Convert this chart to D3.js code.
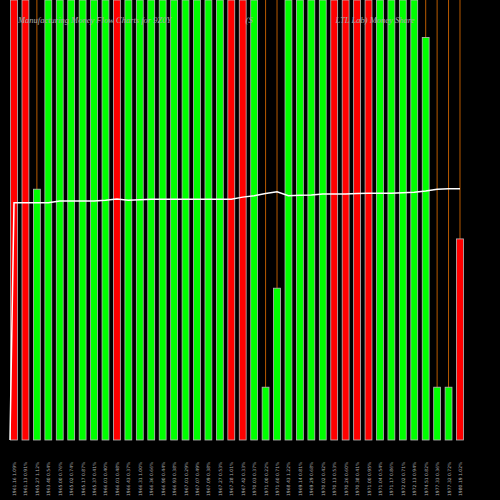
<!DOCTYPE html>
<html><head><meta charset="utf-8">
<script src="https://cdn.jsdelivr.net/npm/d3@7"></script>
<style>body{margin:0;background:#000}</style></head>
<body><div id="chart"></div>
<script>
// bar colour: 1 = up (green), 0 = down (red)
const dirs = [0,0,1,1,1,1,1,1,1,0,1,1,1,1,1,1,1,1,1,0,0,1,1,1,1,1,1,1,0,0,0,0,1,1,1,1,1,1,1,0]
// bar height, 0..100 of the plot
const vols = [100,100,57,100,100,100,100,100,100,100,100,100,100,100,100,100,100,100,100,100,100,100,12,34.5,100,100,100,100,100,100,100,100,100,100,100,100,91.5,12,12,45.7]
// price line, 0..100 of the plot
const price = [53.9,53.9,53.9,53.9,54.3,54.3,54.3,54.3,54.5,54.8,54.5,54.6,54.7,54.7,54.7,54.7,54.7,54.7,54.7,54.7,55.2,55.5,56,56.4,55.5,55.6,55.7,55.9,55.9,55.9,56,56.1,56.1,56.1,56.2,56.3,56.6,57,57.1,57.1]
const labels = ["1961.16 1.09%","1961.13 0.91%","1965.27 1.12%","1963.40 0.54%","1965.00 0.76%","1965.02 0.74%","1965.17 0.87%","1965.37 0.41%","1966.01 0.40%","1966.01 0.48%","1966.43 0.37%","1966.31 1.00%","1966.36 0.66%","1966.90 0.44%","1966.93 0.38%","1967.01 0.29%","1967.07 0.49%","1967.09 0.38%","1967.27 0.53%","1967.28 1.01%","1967.42 0.33%","1970.03 0.37%","1971.00 0.22%","1971.60 0.71%","1968.43 1.22%","1969.14 0.81%","1969.29 0.68%","1970.02 0.42%","1970.13 0.53%","1970.26 0.60%","1970.38 0.41%","1971.00 0.95%","1971.04 0.54%","1971.17 0.86%","1972.02 0.71%","1972.13 0.94%","1974.51 0.82%","1977.33 0.36%","1977.32 0.72%","1980.19 1.02%"]

const W = 500, H = 500
const svg = d3.select('#chart').append('svg').attr('width', W).attr('height', H)
  .style('background', '#000')

const x = d3.scaleBand().domain(d3.range(vols.length)).range([6, 468]).padding(0.4)
const y = d3.scaleLinear().domain([0, 100]).range([440, 0])

// wicks
svg.selectAll('line.wick').data(vols).enter().append('line')
  .attr('x1', (d, i) => x(i) + x.bandwidth() / 2).attr('x2', (d, i) => x(i) + x.bandwidth() / 2)
  .attr('y1', y(100)).attr('y2', y(0))
  .attr('stroke', '#b85a00').attr('stroke-width', 1)

// bars
svg.selectAll('rect.bar').data(vols).enter().append('rect')
  .attr('x', (d, i) => x(i)).attr('width', x.bandwidth())
  .attr('y', d => y(d)).attr('height', d => y(0) - y(d))
  .attr('fill', (d, i) => dirs[i] ? '#00ff00' : '#ff0000')
  .attr('stroke', '#bbb').attr('stroke-width', 0.8)

// price line, starts from the floor
const pts = [[10, y(0)]].concat(price.map((d, i) => [x(i) + x.bandwidth() / 2, y(d)]))
svg.append('path').attr('d', d3.line()(pts))
  .attr('fill', 'none').attr('stroke', '#fff').attr('stroke-width', 1.5)

// x labels
svg.selectAll('text.lab').data(labels).enter().append('text')
  .attr('transform', (d, i) => 'translate(' + (x(i) + x.bandwidth() / 2 + 2) + ',496) rotate(-90)')
  .attr('font-size', 4.5).attr('font-family', 'DejaVu Sans').attr('fill', '#aaa')
  .text(d => d)

// title
svg.append('text').attr('x', 18).attr('y', 23)
  .attr('font-family', 'Liberation Serif').attr('font-style', 'italic').attr('font-size', 8.5)
  .attr('fill', '#aaa').attr('xml:space', 'preserve')
  .text('Manufacturing Money Flow Charts for 9Z0Y                                   (S                                       LTL Lab) Money Share')
</script></body></html>
